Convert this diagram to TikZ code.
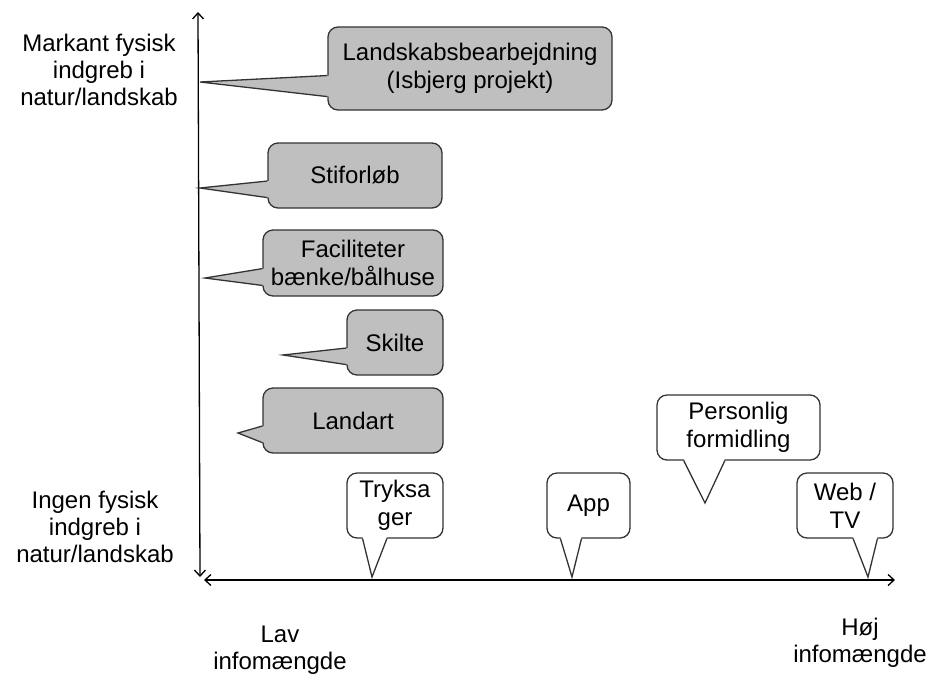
\documentclass[tikz,border=0pt]{standalone}
\usepackage{fontspec}
\setmainfont{Liberation Sans}
\usetikzlibrary{calc,arrows.meta}

\tikzset{
  bubble/.style={draw=black!80, line width=1.3pt, rounded corners=10pt,
    align=center, inner sep=0pt, font=\fontsize{24}{28}\selectfont},
  greybubble/.style={bubble, fill=black!25},
  whitebubble/.style={bubble, fill=white},
  tailline/.style={draw=black!80, line width=1.3pt},
  axislabel/.style={align=center, inner sep=0pt, font=\fontsize{24}{27}\selectfont},
  axis/.style={line width=1.3pt, {Straight Barb[length=6pt,width=11pt]}-{Straight Barb[length=6pt,width=11pt]}},
}

% tail on the left side of a bubble: node, tip, fill
\newcommand\westtail[3]{%
  \fill[#3] ($(#1.north west)!7/12!(#1.south west)+(2,0)$) -- (#2)
    -- ($(#1.north west)!10/12!(#1.south west)+(2,0)$) -- cycle;
  \draw[tailline] ($(#1.north west)!7/12!(#1.south west)$) -- (#2)
    -- ($(#1.north west)!10/12!(#1.south west)$);}
% tail on the bottom side: node, tip, fill, first and second fraction
\newcommand\southtail[5]{%
  \fill[#3] ($(#1.south west)!#4!(#1.south east)+(0,-2)$) -- (#2)
    -- ($(#1.south west)!#5!(#1.south east)+(0,-2)$) -- cycle;
  \draw[tailline] ($(#1.south west)!#4!(#1.south east)$) -- (#2)
    -- ($(#1.south west)!#5!(#1.south east)$);}

\begin{document}
\begin{tikzpicture}[x=1pt, y=-1pt]
  \useasboundingbox (0,0) rectangle (928,673);

  % axes
  \coordinate (ytop) at (198,12);
  \coordinate (ybot) at (200,577);
  \coordinate (xleft) at (204,580);
  \coordinate (xright) at (895,580);
  \draw[axis] (ybot) -- (ytop);
  \draw[axis] (xleft) -- (xright);

  \node[axislabel] (markant) at (99,70) {Markant fysisk\\indgreb i\\natur/landskab};
  \node[axislabel] (ingen) at (95,527) {Ingen fysisk\\indgreb i\\natur/landskab};
  \node[axislabel] (lav) at (280,650) {Lav\\infomængde};
  \node[axislabel] (hoej) at (860,643) {Høj\\infomængde};

  % physical interventions
  \coordinate (landskab tip) at (200,82);
  \coordinate (sti tip) at (200,188);
  \coordinate (facilitet tip) at (205,278);
  \coordinate (skilte tip) at (283,355);
  \coordinate (landart tip) at (238,433);

  \node[greybubble, minimum width=284pt, minimum height=83pt] (landskab) at (470,68.5)
    {Landskabsbearbejdning\\(Isbjerg projekt)};
  \node[greybubble, minimum width=174pt, minimum height=65pt] (sti) at (355,175.5) {Stiforløb};
  \node[greybubble, minimum width=180pt, minimum height=66pt] (facilitet) at (353,263)
    {Faciliteter\\bænke/bålhuse};
  \node[greybubble, minimum width=96pt, minimum height=65pt] (skilte) at (395,342.5) {Skilte};
  \node[greybubble, minimum width=180pt, minimum height=65pt] (landart) at (353,420.5) {Landart};

  \westtail{landskab}{landskab tip}{black!25}
  \westtail{sti}{sti tip}{black!25}
  \westtail{facilitet}{facilitet tip}{black!25}
  \westtail{skilte}{skilte tip}{black!25}
  \westtail{landart}{landart tip}{black!25}

  % information
  \coordinate (tryk tip) at (372,577);
  \coordinate (app tip) at (572,577);
  \coordinate (person tip) at (705,503);
  \coordinate (web tip) at (868,577);

  \node[whitebubble, minimum width=96pt, minimum height=65pt] (tryk) at (395,505.5) {Tryksa\\ger};
  \node[whitebubble, minimum width=83pt, minimum height=65pt] (app) at (588.5,505.5) {App};
  \node[whitebubble, minimum width=163pt, minimum height=65pt] (person) at (738.5,427.5)
    {Personlig\\formidling};
  \node[whitebubble, minimum width=96pt, minimum height=65pt] (web) at (845,505.5) {Web /\\TV};

  \southtail{tryk}{tryk tip}{white}{2/12}{5/12}
  \southtail{app}{app tip}{white}{2/12}{5/12}
  \southtail{person}{person tip}{white}{2/12}{5/12}
  \southtail{web}{web tip}{white}{7/12}{10/12}
\end{tikzpicture}
\end{document}
